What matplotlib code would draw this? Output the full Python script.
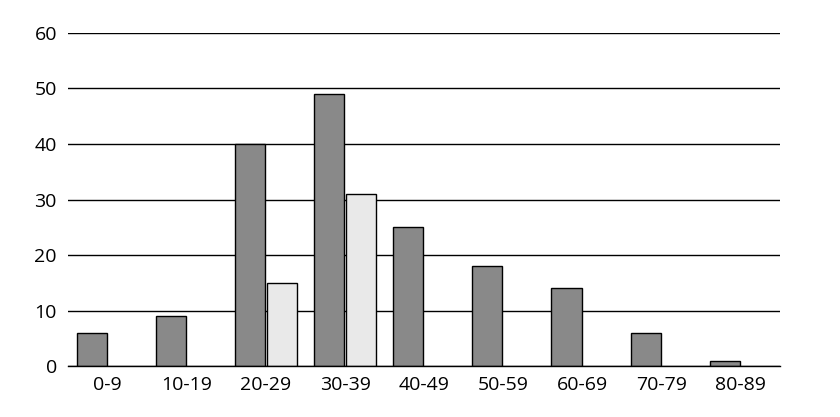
import numpy as np
import matplotlib.pyplot as plt

plt.rcParams['font.family'] = ['Open Sans', 'DejaVu Sans']

categories = ['0-9', '10-19', '20-29', '30-39', '40-49', '50-59', '60-69', '70-79', '80-89']
series_a = [6, 9, 40, 49, 25, 18, 14, 6, 1]
series_b = [0, 0, 15, 31, 0, 0, 0, 0, 0]
y_ticks = [0, 10, 20, 30, 40, 50, 60]

fig = plt.figure(figsize=(8.4, 4.17), dpi=100)
ax = fig.add_axes([0.081, 0.122, 0.848, 0.799])

x = np.arange(len(categories))
w = 0.38
gap = 0.012
ax.bar(x - gap - w / 2, series_a, width=w, color='#898989', edgecolor='black', linewidth=1, zorder=3)
b_vals = np.array(series_b)
mask = b_vals > 0
ax.bar(x[mask] + gap + w / 2, b_vals[mask], width=w, color='#e9e9e9', edgecolor='black', linewidth=1, zorder=3)

ax.set_xlim(-0.5, len(categories) - 0.5)
ax.set_ylim(0, 60)
ax.set_yticks(y_ticks)
ax.set_xticks(x)
ax.set_xticklabels(categories)
ax.yaxis.grid(True, color='black', linewidth=1, zorder=0)
ax.set_axisbelow(True)
for s in ax.spines.values():
    s.set_visible(False)
ax.axhline(0, color='black', linewidth=1, zorder=4, clip_on=False)
ax.tick_params(length=0, labelsize=14, pad=7)
ax.tick_params(axis='y', pad=8)

fig.savefig('out.png', dpi=100)
